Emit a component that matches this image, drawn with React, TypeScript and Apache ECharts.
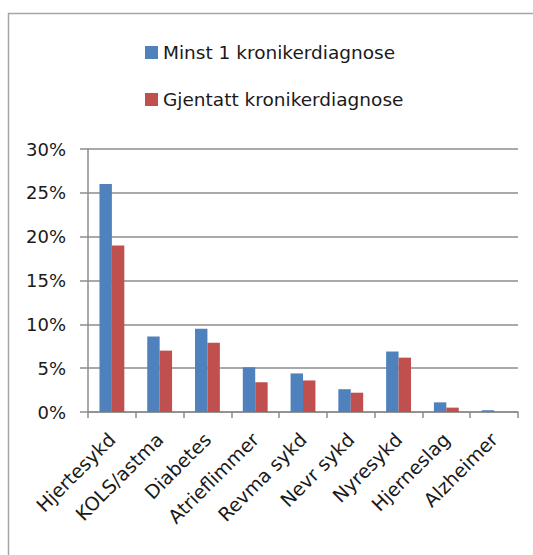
import React, { useEffect, useRef } from "react";
import * as echarts from "echarts";

const categories = ["Hjertesykd", "KOLS/astma", "Diabetes", "Atrieflimmer", "Revma sykd", "Nevr sykd", "Nyresykd", "Hjerneslag", "Alzheimer"];
const minst1 = [26.0, 8.6, 9.5, 5.1, 4.4, 2.6, 6.9, 1.1, 0.2];
const gjentatt = [19.0, 7.0, 7.9, 3.4, 3.6, 2.2, 6.2, 0.5, 0.0];
const seriesNames = ["Minst 1 kronikerdiagnose", "Gjentatt kronikerdiagnose"];

const FONT = "'DejaVu Sans', 'Open Sans', sans-serif";

export default function App() {
  const ref = useRef<HTMLDivElement>(null);
  useEffect(() => {
    if (!ref.current) return;
    const chart = echarts.init(ref.current, undefined, { renderer: "svg" });
    chart.setOption({
      animation: false,
      backgroundColor: "#ffffff",
      textStyle: { fontFamily: FONT },
      graphic: [
        {
          type: "rect",
          shape: { x: 8.5, y: 13.5, width: 700, height: 700 },
          style: { fill: "none", stroke: "#a6a6a6", lineWidth: 1.5 },
          silent: true,
        },
      ],
      legend: {
        orient: "vertical",
        left: 140,
        top: 38,
        itemGap: 28,
        itemWidth: 13,
        itemHeight: 13,
        icon: "rect",
        textStyle: { fontSize: 18.5, color: "#1a1a1a", fontFamily: FONT },
        data: seriesNames,
      },
      grid: { left: 88, top: 149, right: 15, bottom: 143, containLabel: false },
      xAxis: {
        type: "category",
        data: categories,
        axisLine: { lineStyle: { color: "#8c8c8c", width: 1.5 } },
        axisTick: { show: true, length: 6, lineStyle: { color: "#8c8c8c", width: 1.5 } },
        axisLabel: { rotate: 45, fontSize: 19, color: "#1a1a1a", margin: 24, interval: 0, fontFamily: FONT },
      },
      yAxis: {
        type: "value",
        min: 0,
        max: 30,
        interval: 5,
        axisLine: { show: true, lineStyle: { color: "#8c8c8c", width: 1.5 } },
        axisTick: { show: true, length: 8, lineStyle: { color: "#8c8c8c", width: 1.5 } },
        splitLine: { lineStyle: { color: "#8c8c8c", width: 1.5 } },
        axisLabel: { formatter: "{value}%", fontSize: 18, color: "#1a1a1a", margin: 22, fontFamily: FONT },
      },
      series: [
        {
          name: seriesNames[0],
          type: "bar",
          data: minst1,
          barGap: "0%",
          barCategoryGap: "48%",
          itemStyle: { color: "#4f81bd" },
        },
        {
          name: seriesNames[1],
          type: "bar",
          data: gjentatt,
          itemStyle: { color: "#c0504d" },
        },
      ],
    });
    return () => chart.dispose();
  }, []);
  return <div ref={ref} style={{ position: "absolute", left: 0, top: 0, width: 533, height: 555 }} />;
}
